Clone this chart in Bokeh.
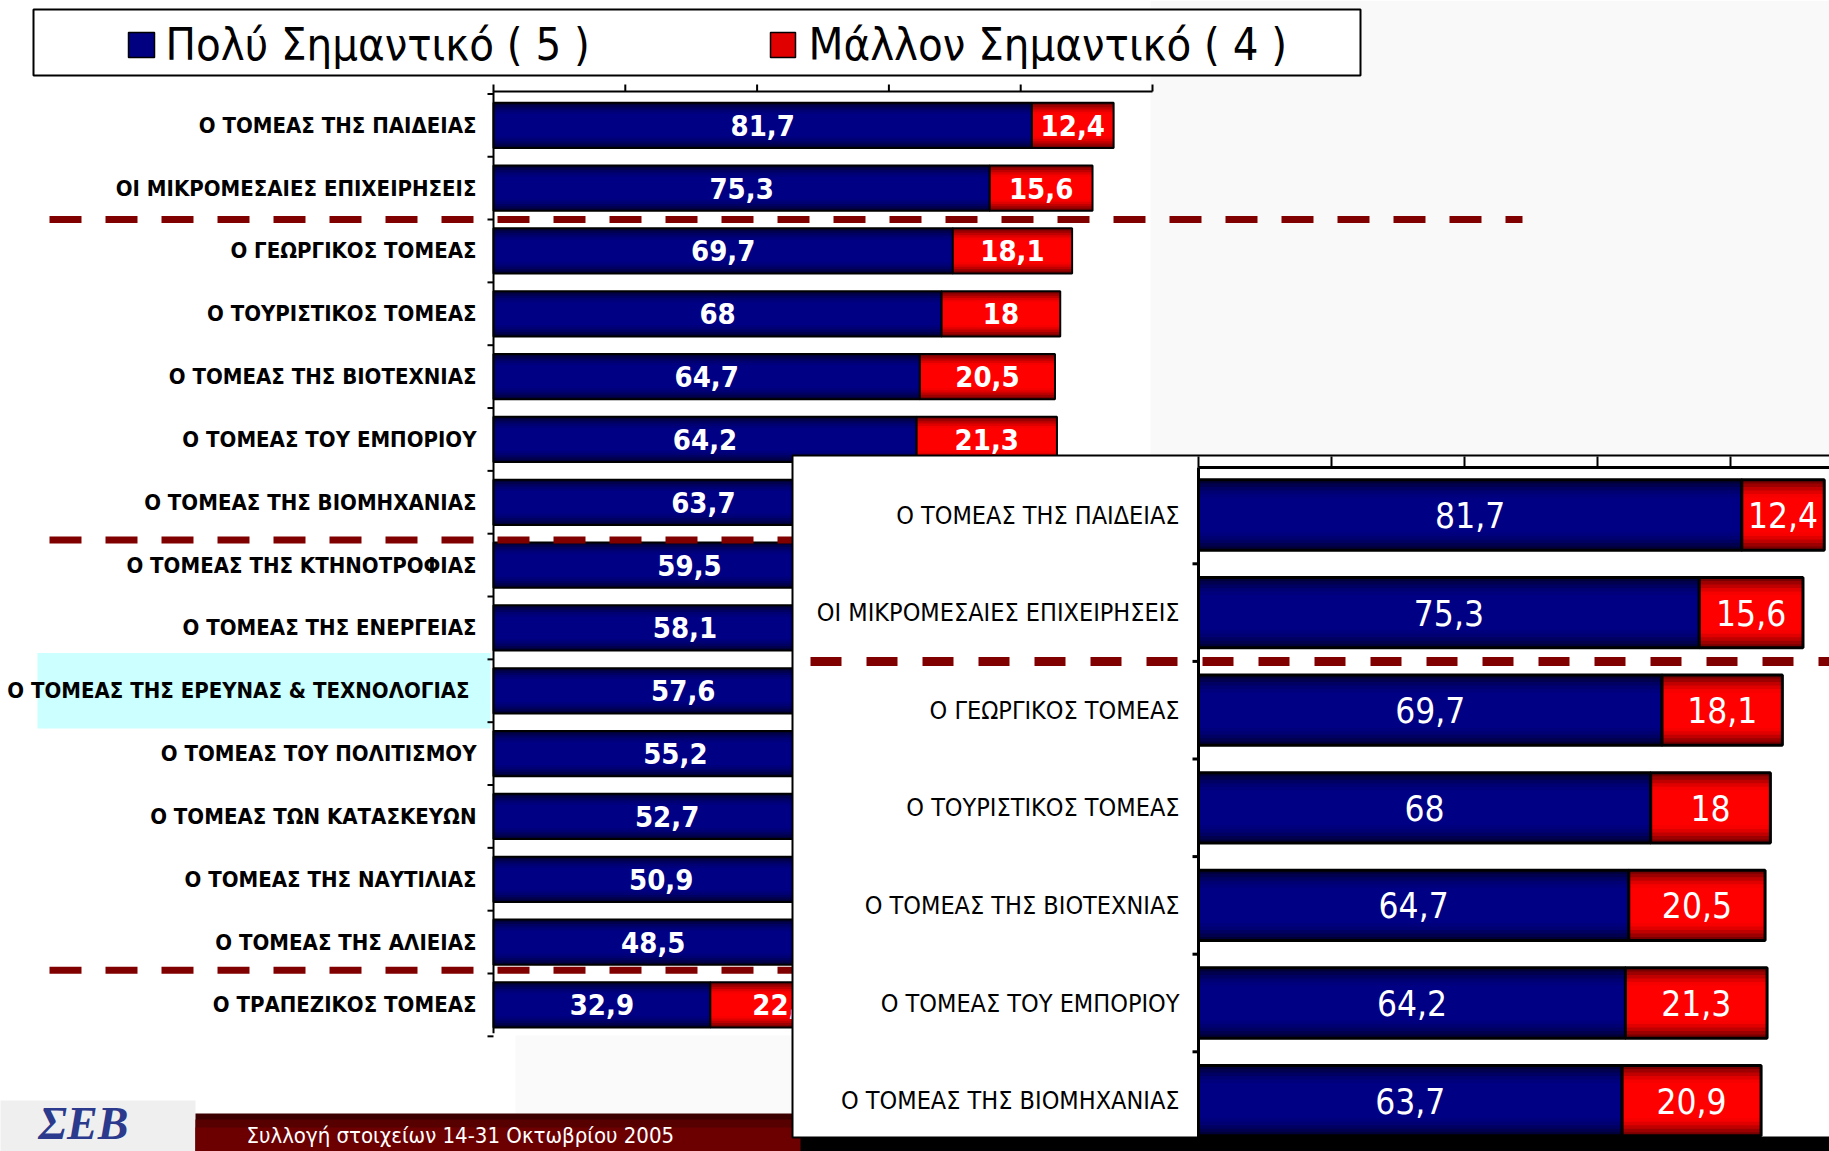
from bokeh.plotting import figure
from bokeh.models import Range1d
from bokeh.core.properties import value
from bokeh.embed import file_html
from bokeh.resources import INLINE

# ---------------- data ----------------
categories = [
    "Ο ΤΟΜΕΑΣ ΤΗΣ ΠΑΙΔΕΙΑΣ",
    "ΟΙ ΜΙΚΡΟΜΕΣΑΙΕΣ ΕΠΙΧΕΙΡΗΣΕΙΣ",
    "Ο ΓΕΩΡΓΙΚΟΣ ΤΟΜΕΑΣ",
    "Ο ΤΟΥΡΙΣΤΙΚΟΣ ΤΟΜΕΑΣ",
    "Ο ΤΟΜΕΑΣ ΤΗΣ ΒΙΟΤΕΧΝΙΑΣ",
    "Ο ΤΟΜΕΑΣ ΤΟΥ ΕΜΠΟΡΙΟΥ",
    "Ο ΤΟΜΕΑΣ ΤΗΣ ΒΙΟΜΗΧΑΝΙΑΣ",
    "Ο ΤΟΜΕΑΣ ΤΗΣ ΚΤΗΝΟΤΡΟΦΙΑΣ",
    "Ο ΤΟΜΕΑΣ ΤΗΣ ΕΝΕΡΓΕΙΑΣ",
    "Ο ΤΟΜΕΑΣ  ΤΗΣ ΕΡΕΥΝΑΣ & ΤΕΧΝΟΛΟΓΙΑΣ",
    "Ο ΤΟΜΕΑΣ ΤΟΥ ΠΟΛΙΤΙΣΜΟΥ",
    "Ο ΤΟΜΕΑΣ ΤΩΝ ΚΑΤΑΣΚΕΥΩΝ",
    "Ο ΤΟΜΕΑΣ ΤΗΣ ΝΑΥΤΙΛΙΑΣ",
    "Ο ΤΟΜΕΑΣ ΤΗΣ ΑΛΙΕΙΑΣ",
    "Ο ΤΡΑΠΕΖΙΚΟΣ ΤΟΜΕΑΣ",
]
very_important = [81.7, 75.3, 69.7, 68.0, 64.7, 64.2, 63.7, 59.5, 58.1, 57.6,
                  55.2, 52.7, 50.9, 48.5, 32.9]
# values of rows 8-14 are hidden behind the zoomed inset in the source: estimates
rather_important = [12.4, 15.6, 18.1, 18.0, 20.5, 21.3, 20.9, 24.6, 25.8, 26.4,
                    27.1, 28.3, 29.0, 30.2, 22.5]
highlighted = "Ο ΤΟΜΕΑΣ  ΤΗΣ ΕΡΕΥΝΑΣ & ΤΕΧΝΟΛΟΓΙΑΣ"
axis_ticks = [0, 20, 40, 60, 80, 100]
inset_rows = 7
main_separators = [1.5, 6.6, 13.45]
inset_separators = [1.5]
legend_labels = ["Πολύ Σημαντικό ( 5 )", "Μάλλον Σημαντικό ( 4 )"]
footer_text = "Συλλογή στοιχείων  14-31  Οκτωβρίου 2005"
logo_text = "ΣΕΒ"


def fmt(v):
    return f"{v:g}".replace(".", ",")


# ---------------- canvas ----------------
W, H = 1829, 1151

p = figure(width=W, height=H, x_range=Range1d(0, W), y_range=Range1d(H, 0),
           output_backend="svg", toolbar_location=None, min_border=0,
           x_axis_location=None, y_axis_location=None)
p.xgrid.visible = False
p.ygrid.visible = False
p.outline_line_color = None
p.background_fill_color = "white"
p.border_fill_color = "white"


def xrange_for(origin, ppu):
    return Range1d(-origin / ppu, (W - origin) / ppu)


def yrange_for(origin, ppu):
    return Range1d((H - origin) / ppu, -origin / ppu)


MAIN_X0, MAIN_PPU, MAIN_Y0, MAIN_ROW = 493, 6.59, 124.8, 62.83
INS_X0, INS_PPU, INS_Y0, INS_ROW = 1198, 6.65, 514.5, 97.6

p.extra_x_ranges = {"mx": xrange_for(MAIN_X0, MAIN_PPU), "ix": xrange_for(INS_X0, INS_PPU)}
p.extra_y_ranges = {"my": yrange_for(MAIN_Y0, MAIN_ROW), "iy": yrange_for(INS_Y0, INS_ROW)}

COND = value("DejaVu Sans Condensed")
DASH_RED = "#800000"
FRACS = [1.0, 0.9, 0.8, 0.7, 0.6, 0.5]
BLUES = ["#000038", "#00004e", "#000062", "#000072", "#00007c", "#000084"]
REDS = ["#780000", "#9c0000", "#c00000", "#e00000", "#f60000", "#ff0000"]

# faint background texture regions
p.quad(left=1150, right=W + 20, top=0, bottom=455, fill_color="#f9f9f9", line_color=None)
p.quad(left=515, right=795, top=1035, bottom=1113, fill_color="#fafafa", line_color=None)

# ---------------- legend ----------------
p.quad(left=33, right=1360, top=9, bottom=75, fill_color="white", line_color="black", line_width=2)
p.quad(left=[128, 770], right=[154, 795], top=[32, 32], bottom=[57, 57],
       fill_color=["#000080", "#e00000"], line_color="black", line_width=1.5)
p.text(x=[165, 808], y=[44, 44], text=legend_labels, text_font=COND, text_font_size="45px",
       text_baseline="middle", text_align="left", text_color="black")


def stacked_bars(xr, yr, idx, left, right, height, colors, lw):
    for f, c in zip(FRACS, colors):
        p.hbar(y=idx, left=left, right=right, height=height * f, fill_color=c,
               line_color=None, x_range_name=xr, y_range_name=yr)
    p.hbar(y=idx, left=left, right=right, height=height, fill_color=None,
           line_color="black", line_width=lw, x_range_name=xr, y_range_name=yr)


# ---------------- main chart ----------------
n = len(categories)
idx = list(range(n))
hi = categories.index(highlighted)
p.quad(left=37, right=490, top=[hi - 0.6], bottom=[hi + 0.6],
       fill_color="#ccffff", line_color=None, y_range_name="my")

totals = [a + b for a, b in zip(very_important, rather_important)]
stacked_bars("mx", "my", idx, [0] * n, very_important, 0.72, BLUES, 2)
stacked_bars("mx", "my", idx, very_important, totals, 0.72, REDS, 2)

p.text(x=[v / 2 for v in very_important], y=idx, text=[fmt(v) for v in very_important],
       x_range_name="mx", y_range_name="my", text_font=COND, text_font_style="bold",
       text_font_size="29px", text_color="white", text_align="center", text_baseline="middle")
p.text(x=[a + b / 2 for a, b in zip(very_important, rather_important)], y=idx,
       text=[fmt(v) for v in rather_important],
       x_range_name="mx", y_range_name="my", text_font=COND, text_font_style="bold",
       text_font_size="29px", text_color="white", text_align="center", text_baseline="middle")

p.text(x=[476] * n, y=idx, text=categories, y_range_name="my", text_font=COND,
       text_font_style="bold", text_font_size="22px", text_color="black",
       text_align="right", text_baseline="middle")

# main axes (top value axis without labels, left category axis)
top_y = 91
p.segment(x0=[axis_ticks[0]], x1=[axis_ticks[-1]], y0=[top_y], y1=[top_y],
          x_range_name="mx", line_color="black", line_width=2)
p.segment(x0=axis_ticks, x1=axis_ticks, y0=[top_y] * len(axis_ticks),
          y1=[top_y - 7] * len(axis_ticks), x_range_name="mx", line_color="black", line_width=2)
p.segment(x0=[0], x1=[0], y0=[-0.54], y1=[n - 0.55], x_range_name="mx", y_range_name="my",
          line_color="black", line_width=2)
bnd = [k - 0.5 for k in range(n + 1)]
p.segment(x0=[0] * len(bnd), x1=[-6 / MAIN_PPU] * len(bnd), y0=bnd, y1=bnd,
          x_range_name="mx", y_range_name="my", line_color="black", line_width=2)

# dashed separators
for s, x_end in zip(main_separators, [1522, 800, 800]):
    p.segment(x0=[49], x1=[x_end], y0=[s], y1=[s], y_range_name="my",
              line_color=DASH_RED, line_width=7, line_dash="32 24")

# ---------------- footer ----------------
p.quad(left=-10, right=195, top=1100, bottom=H + 10, fill_color="#efefef", line_color=None)
p.quad(left=195, right=805, top=[1113, 1119, 1127],
       bottom=[H + 10, H + 10, H + 10], fill_color=["#3c0000", "#560000", "#6c0000"],
       line_color=None)
p.text(x=[246], y=[1135], text=[footer_text], text_font=COND, text_font_size="22px",
       text_color="white", text_align="left", text_baseline="middle")
p.text(x=[38], y=[1097], text=[logo_text], text_font=value("Liberation Serif"),
       text_font_style="bold italic", text_font_size="46px", text_color="#2b3a8c",
       text_align="left", text_baseline="top")

# ---------------- zoomed inset ----------------
p.quad(left=800, right=W + 20, top=1137, bottom=H + 10, fill_color="black", line_color=None)
p.quad(left=792, right=W + 20, top=455, bottom=1137, fill_color="white",
       line_color="black", line_width=2)

m = inset_rows
iidx = list(range(m))
iv = very_important[:m]
ir = rather_important[:m]
itot = [a + b for a, b in zip(iv, ir)]
stacked_bars("ix", "iy", iidx, [0] * m, iv, 0.72, BLUES, 3)
stacked_bars("ix", "iy", iidx, iv, itot, 0.72, REDS, 3)

p.text(x=[v / 2 for v in iv], y=iidx, text=[fmt(v) for v in iv],
       x_range_name="ix", y_range_name="iy", text_font=COND, text_font_size="35px",
       text_color="white", text_align="center", text_baseline="middle")
p.text(x=[a + b / 2 for a, b in zip(iv, ir)], y=iidx, text=[fmt(v) for v in ir],
       x_range_name="ix", y_range_name="iy", text_font=COND, text_font_size="35px",
       text_color="white", text_align="center", text_baseline="middle")
p.text(x=[1179] * m, y=iidx, text=categories[:m], y_range_name="iy", text_font=COND,
       text_font_size="25px", text_color="black", text_align="right", text_baseline="middle")

itop = 467
p.segment(x0=[0], x1=[120], y0=[itop], y1=[itop], x_range_name="ix", line_color="black",
          line_width=3)
p.segment(x0=axis_ticks, x1=axis_ticks, y0=[itop] * len(axis_ticks),
          y1=[456] * len(axis_ticks), x_range_name="ix", line_color="black", line_width=2)
p.segment(x0=[0], x1=[0], y0=[itop], y1=[1137], x_range_name="ix", line_color="black",
          line_width=3)
ibnd = [k + 0.5 for k in range(m - 1)]
p.segment(x0=[0] * len(ibnd), x1=[-6 / INS_PPU] * len(ibnd), y0=ibnd, y1=ibnd,
          x_range_name="ix", y_range_name="iy", line_color="black", line_width=3)
for s in inset_separators:
    p.segment(x0=[810], x1=[W + 20], y0=[s], y1=[s], y_range_name="iy",
              line_color=DASH_RED, line_width=9, line_dash="31 25")

open("out.html", "w").write(file_html(p, INLINE))
